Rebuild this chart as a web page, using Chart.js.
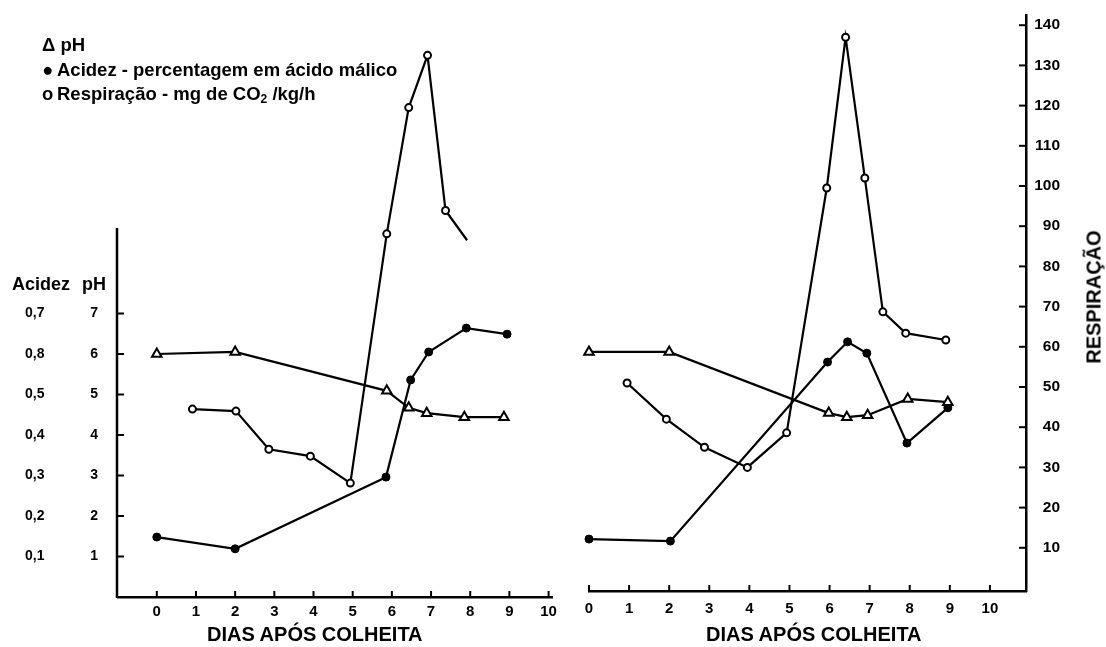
<!DOCTYPE html>
<html lang="pt">
<head>
<meta charset="utf-8">
<title>Acidez, pH e respiração após colheita</title>
<script src="https://cdn.jsdelivr.net/npm/chart.js@4.4.0/dist/chart.umd.min.js"></script>
<style>
  html, body { margin: 0; padding: 0; background: #fff; }
  #wrap { position: relative; width: 1106px; height: 647px; overflow: hidden;
          font-family: "Liberation Sans", Arial, sans-serif; font-weight: bold; color: #000; }
  #leftBox { position: absolute; left: 0; top: 0; width: 560px; height: 647px; }
  #rightBox { position: absolute; left: 560px; top: 0; width: 546px; height: 647px; }
  .txt { position: absolute; white-space: nowrap; }
  #legend { left: 42px; top: 33px; font-size: 18.5px; line-height: 24.5px; }
  #legend sub { font-size: 12px; vertical-align: -3px; }
  .bullet { display: inline-block; width: 9px; text-align: center; margin-right: 6px; }
  .xtitle { font-size: 20px; top: 623px; }
  #respTitle { left: 1094px; top: 297px; font-size: 20px; transform: translate(-50%, -50%) rotate(-90deg); }
</style>
</head>
<body>
<div id="wrap">
  <div id="leftBox"><canvas id="chartLeft"></canvas></div>
  <div id="rightBox"><canvas id="chartRight"></canvas></div>

  <div id="legend" class="txt">
    <div>Δ pH</div>
    <div><span class="bullet">●</span>Acidez - percentagem em ácido málico</div>
    <div><span class="bullet">o</span>Respiração - mg de CO<sub>2</sub> /kg/h</div>
  </div>
  <div class="txt" style="left:12px; top:274px; font-size:18px;">Acidez</div>
  <div class="txt" style="left:82px; top:274px; font-size:18px;">pH</div>
  <div class="txt xtitle" style="left:207px;">DIAS APÓS COLHEITA</div>
  <div class="txt xtitle" style="left:706px;">DIAS APÓS COLHEITA</div>
  <div id="respTitle" class="txt">RESPIRAÇÃO</div>
</div>

<script>
// Escalas
const dayTicks = [0, 1, 2, 3, 4, 5, 6, 7, 8, 9, 10];
const phTicks = [1, 2, 3, 4, 5, 6, 7];
const acidTicks = [0.1, 0.2, 0.3, 0.4, 0.5, 0.6, 0.7];
const acidTickLabels = ['0,1', '0,2', '0,3', '0,4', '0,5', '0,8', '0,7'];
const respTicks = [10, 20, 30, 40, 50, 60, 70, 80, 90, 100, 110, 120, 130, 140];

// Painel esquerdo
const leftPhDays = [0, 2, 5.87, 6.43, 6.89, 7.85, 8.86];
const leftPh = [6.0, 6.05, 5.09, 4.67, 4.54, 4.44, 4.44];
const leftAcidDays = [0, 2, 5.85, 6.48, 6.94, 7.9, 8.94];
const leftAcid = [0.148, 0.119, 0.296, 0.536, 0.605, 0.664, 0.649];
const leftRespDays = [0.91, 2.02, 2.86, 3.92, 4.94, 5.87, 6.43, 6.91, 7.37, 7.92];
const leftResp = [45, 44.5, 35, 33.3, 26.6, 88.6, 120, 133, 94.4, 87];

// Painel direito
const rightPhDays = [0, 2, 5.98, 6.43, 6.95, 7.95, 8.95];
const rightPh = [6.05, 6.05, 4.54, 4.44, 4.49, 4.89, 4.81];
const rightAcidDays = [0, 2.03, 5.95, 6.45, 6.93, 7.93, 8.95];
const rightAcid = [0.143, 0.138, 0.58, 0.63, 0.602, 0.38, 0.467];
const rightRespDays = [0.95, 1.93, 2.88, 3.95, 4.93, 5.93, 6.4, 6.88, 7.33, 7.9, 8.9];
const rightResp = [51, 42, 35, 30, 38.6, 99.5, 137, 102, 68.7, 63.4, 61.7];

// topo do eixo de pH no painel esquerdo
const phAxisTop = 9.11;

function pts(xs, ys) {
    return xs.map((x, i) => ({ x: x, y: ys[i] }));
}

function fixedTicks(values) {
    return function(scale) {
        scale.ticks = values.map(v => ({ value: v }));
    };
}

// marcas de escala voltadas para dentro + eixo de pH mais curto
const inwardTicks = {
    id: 'inwardTicks',
    afterDatasetsDraw(chart, args, opts) {
        const ctx = chart.ctx;
        ctx.save();
        ctx.strokeStyle = '#000';
        if (opts.shortAxis) {
            const s = chart.scales[opts.shortAxis.id];
            ctx.lineWidth = 2.5;
            ctx.beginPath();
            ctx.moveTo(s.right - 1, s.getPixelForValue(opts.shortAxis.top));
            ctx.lineTo(s.right - 1, s.bottom + 1);
            ctx.stroke();
        }
        ctx.lineWidth = 2;
        (opts.ids || []).forEach(id => {
            const scale = chart.scales[id];
            if (!scale) return;
            scale.ticks.forEach(t => {
                const p = scale.getPixelForValue(t.value);
                ctx.beginPath();
                if (scale.isHorizontal()) {
                    ctx.moveTo(p, scale.top);
                    ctx.lineTo(p, scale.top - 6);
                } else if (scale.position === 'left') {
                    ctx.moveTo(scale.right, p);
                    ctx.lineTo(scale.right + 6, p);
                } else {
                    ctx.moveTo(scale.left, p);
                    ctx.lineTo(scale.left - 7, p);
                }
                ctx.stroke();
            });
        });
        ctx.restore();
    }
};

const tickFont = { family: '"Liberation Sans", Arial, sans-serif', weight: 'bold', size: 14 };
const axisBorder = { display: true, color: '#000', width: 2.5 };

function phSet(data, axis) {
    return {
        data: data, yAxisID: axis, clip: false,
        borderColor: '#000', borderWidth: 2.2,
        pointStyle: 'triangle', pointRadius: 5.5,
        pointBackgroundColor: '#fff', pointBorderColor: '#000', pointBorderWidth: 2
    };
}
function acidSet(data, axis) {
    return {
        data: data, yAxisID: axis, clip: false,
        borderColor: '#000', borderWidth: 2.2,
        pointStyle: 'circle', pointRadius: 4,
        pointBackgroundColor: '#000', pointBorderColor: '#000', pointBorderWidth: 1
    };
}
function respSet(data, axis, radii) {
    return {
        data: data, yAxisID: axis, clip: false,
        borderColor: '#000', borderWidth: 2.2,
        pointStyle: 'circle', pointRadius: radii || 3.5,
        pointBackgroundColor: '#fff', pointBorderColor: '#000', pointBorderWidth: 2
    };
}

function xAxis(min, max, height, pad) {
    return {
        type: 'linear', axis: 'x', position: 'bottom',
        min: min, max: max,
        grid: { display: false },
        border: axisBorder,
        ticks: { font: { ...tickFont, size: 15 }, color: '#000', padding: pad, autoSkip: false,
                 callback: v => String(v) },
        afterBuildTicks: fixedTicks(dayTicks),
        afterFit: s => { s.height = height; }
    };
}

// Gráfico esquerdo (área começa em y=30 para caber o pico de respiração)
const leftRespRadii = leftResp.map((v, i) => i === leftResp.length - 1 ? 0 : 3.5);

new Chart(document.getElementById('chartLeft'), {
    type: 'line',
    data: {
        datasets: [
            phSet(pts(leftPhDays, leftPh), 'ph'),
            acidSet(pts(leftAcidDays, leftAcid), 'acid'),
            respSet(pts(leftRespDays, leftResp), 'respL', leftRespRadii)
        ]
    },
    options: {
        responsive: true,
        maintainAspectRatio: false,
        animation: false,
        layout: { padding: { left: 25, top: 30, right: 4, bottom: 0 } },
        plugins: {
            legend: { display: false },
            tooltip: { enabled: false },
            inwardTicks: { ids: ['x', 'ph'], shortAxis: { id: 'ph', top: phAxisTop } }
        },
        scales: {
            x: xAxis(-0.99, 10.1, 50, -2),
            ph: {
                type: 'linear', axis: 'y', position: 'left', weight: 0,
                min: 0, max: 14.0,
                grid: { display: false },
                border: { display: false },
                ticks: { font: tickFont, color: '#000', padding: 12, crossAlign: 'near', autoSkip: false },
                afterBuildTicks: fixedTicks(phTicks),
                afterFit: s => { s.width = 40; }
            },
            acid: {
                type: 'linear', axis: 'y', position: 'left', weight: 1,
                min: 0, max: 1.40,
                grid: { display: false },
                border: { display: false },
                ticks: { font: tickFont, color: '#000', padding: 0, crossAlign: 'far', autoSkip: false,
                         callback: (v, i) => acidTickLabels[i] },
                afterBuildTicks: fixedTicks(acidTicks),
                afterFit: s => { s.width = 53; }
            },
            respL: { type: 'linear', axis: 'y', position: 'right', display: false, min: -1.74, max: 139.3 }
        }
    },
    plugins: [inwardTicks]
});

// Gráfico direito
new Chart(document.getElementById('chartRight'), {
    type: 'line',
    data: {
        datasets: [
            phSet(pts(rightPhDays, rightPh), 'phR'),
            acidSet(pts(rightAcidDays, rightAcid), 'acidR'),
            respSet(pts(rightRespDays, rightResp), 'resp')
        ]
    },
    options: {
        responsive: true,
        maintainAspectRatio: false,
        animation: false,
        layout: { padding: { left: 29, top: 15, right: 46, bottom: 0 } },
        plugins: {
            legend: { display: false },
            tooltip: { enabled: false },
            inwardTicks: { ids: ['x', 'resp'] }
        },
        scales: {
            x: xAxis(0, 10.9, 56, 1),
            resp: {
                type: 'linear', axis: 'y', position: 'right',
                min: -0.75, max: 142.54,
                grid: { display: false },
                border: axisBorder,
                ticks: { font: { ...tickFont, size: 15.5 }, color: '#000', padding: 0, crossAlign: 'far', autoSkip: false },
                afterBuildTicks: fixedTicks(respTicks),
                afterFit: s => { s.width = 34; }
            },
            phR: { type: 'linear', axis: 'y', position: 'left', display: false, min: 0.148, max: 14.37 },
            acidR: { type: 'linear', axis: 'y', position: 'left', display: false, min: 0.0148, max: 1.437 }
        }
    },
    plugins: [inwardTicks]
});
</script>
</body>
</html>
